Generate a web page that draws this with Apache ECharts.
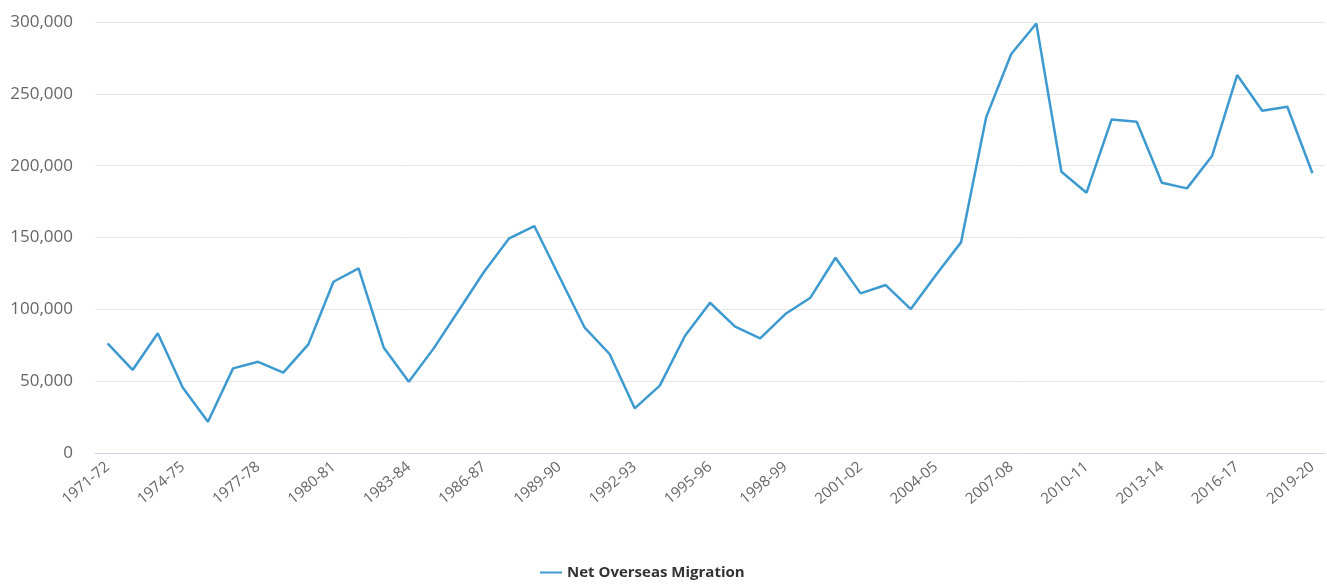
<!DOCTYPE html>
<html>
<head>
<meta charset="utf-8">
<script src="https://cdn.jsdelivr.net/npm/echarts@6/dist/echarts.min.js"></script>
<style>
  html, body { margin: 0; padding: 0; background: #fff; }
  #chart { width: 1327px; height: 585px; }
</style>
</head>
<body>
<div id="chart"></div>
<script>
const years = [
  '1971-72', '1972-73', '1973-74', '1974-75', '1975-76', '1976-77', '1977-78',
  '1978-79', '1979-80', '1980-81', '1981-82', '1982-83', '1983-84', '1984-85',
  '1985-86', '1986-87', '1987-88', '1988-89', '1989-90', '1990-91', '1991-92',
  '1992-93', '1993-94', '1994-95', '1995-96', '1996-97', '1997-98', '1998-99',
  '1999-00', '2000-01', '2001-02', '2002-03', '2003-04', '2004-05', '2005-06',
  '2006-07', '2007-08', '2008-09', '2009-10', '2010-11', '2011-12', '2012-13',
  '2013-14', '2014-15', '2015-16', '2016-17', '2017-18', '2018-19', '2019-20'
];

// Net overseas migration (persons)
const netOverseasMigration = [
  76300, 57800, 83300, 45400, 21800, 58900, 63500,
  55900, 75600, 119200, 128500, 73500, 49600, 73000,
  99500, 126200, 149400, 158000, 122700, 87500, 68900,
  31100, 46900, 81400, 104600, 87900, 79800, 96700,
  108100, 135900, 111100, 116900, 100200, 123900, 146600,
  233600, 277700, 299000, 195800, 181200, 232200, 230600,
  188100, 184200, 206700, 263100, 238200, 241000, 194700
];

const yTicks = { min: 0, max: 300000, step: 50000 };

const chart = echarts.init(document.getElementById('chart'));

const fmt = v => v.toLocaleString('en-US');

chart.setOption({
  animation: false,
  textStyle: { fontFamily: '"Open Sans", "Noto Sans", sans-serif' },
  grid: { left: 95, right: 2, top: 22, bottom: 132, containLabel: false },
  legend: {
    bottom: 0,
    left: 535,
    itemWidth: 22,
    itemHeight: 2,
    itemGap: 8,
    icon: 'rect',
    textStyle: { color: '#333', fontSize: 15, fontWeight: 'bold' },
    data: ['Net Overseas Migration']
  },
  xAxis: {
    type: 'category',
    data: years,
    boundaryGap: true,
    axisLine: { lineStyle: { color: '#ccd6eb' } },
    axisTick: { show: false },
    axisLabel: {
      interval: 2,
      rotate: 40,
      color: '#666',
      fontSize: 15,
      margin: 12
    }
  },
  yAxis: {
    type: 'value',
    min: yTicks.min,
    max: yTicks.max,
    interval: yTicks.step,
    axisLine: { show: false },
    axisTick: { show: false },
    splitLine: { lineStyle: { color: '#e6e6e6' } },
    axisLabel: {
      color: '#666',
      fontSize: 17,
      margin: 22,
      formatter: fmt
    }
  },
  series: [{
    name: 'Net Overseas Migration',
    type: 'line',
    data: netOverseasMigration,
    symbol: 'none',
    itemStyle: { color: '#3d9ad1' },
    lineStyle: { color: '#3d9ad1', width: 2.5 }
  }]
});
</script>
</body>
</html>
